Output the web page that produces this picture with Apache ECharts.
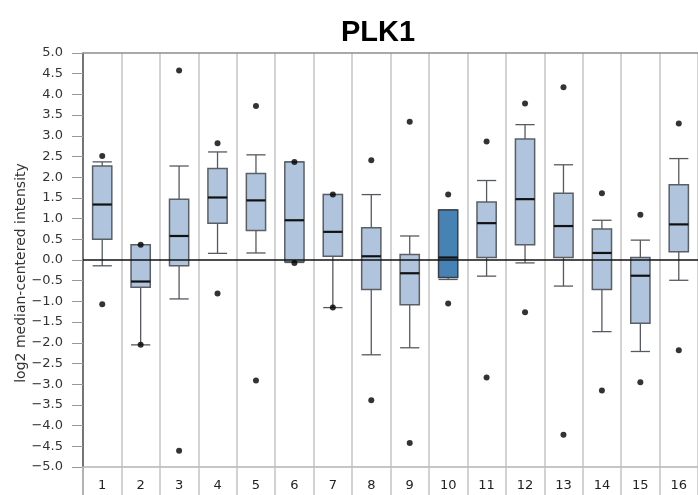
<!DOCTYPE html>
<html>
<head>
<meta charset="utf-8">
<style>
  html, body { margin: 0; padding: 0; background: #fff; }
  #chart { width: 698px; height: 495px; }
</style>
<script src="https://cdn.jsdelivr.net/npm/echarts@6/dist/echarts.min.js"></script>
</head>
<body>
<div id="chart"></div>
<script>
// PLK1 expression per group: five-number summaries and outlying points
const categories = ['1', '2', '3', '4', '5', '6', '7', '8', '9', '10', '11', '12', '13', '14', '15', '16'];
const lowWhisker  = [-0.14, -2.05, -0.94, 0.16, 0.17, -0.06, -1.15, -2.29, -2.12, -0.47, -0.39, -0.07, -0.63, -1.73, -2.21, -0.49];
const lowerQuart  = [ 0.50, -0.66, -0.14, 0.89, 0.71, -0.04,  0.09, -0.71, -1.08, -0.42,  0.06,  0.37,  0.06, -0.71, -1.53,  0.20];
const medians     = [ 1.34, -0.52,  0.58, 1.51, 1.44,  0.96,  0.68,  0.09, -0.32,  0.06,  0.89,  1.47,  0.82,  0.17, -0.38,  0.86];
const upperQuart  = [ 2.27,  0.37,  1.47, 2.21, 2.09,  2.37,  1.58,  0.78,  0.13,  1.21,  1.40,  2.92,  1.61,  0.75,  0.06,  1.82];
const highWhisker = [ 2.37,  0.37,  2.27, 2.61, 2.54,  2.37,  1.58,  1.58,  0.58,  1.21,  1.92,  3.27,  2.30,  0.96,  0.48,  2.45];
const highPoints  = [ 2.51,  0.37,  4.58, 2.82, 3.72,  2.37,  1.58,  2.41,  3.34,  1.58,  2.86,  3.78,  4.17,  1.61,  1.09,  3.30];
const lowPoints   = [-1.07, -2.05, -4.61, -0.81, -2.91, -0.07, -1.15, -3.39, -4.42, -1.05, -2.84, -1.26, -4.22, -3.15, -2.95, -2.18];
const highlightedGroup = 9;
const yTicks = { min: -5, max: 5, step: 0.5 };

const boxData = categories.map((c, i) =>
  [i, lowWhisker[i], lowerQuart[i], medians[i], upperQuart[i], highWhisker[i]]);
const pointData = [];
categories.forEach((c, i) => {
  pointData.push([i, highPoints[i]]);
  pointData.push([i, lowPoints[i]]);
});

const FONT = 'DejaVu Sans';

function renderBox(params, api) {
  const idx = api.value(0);
  const pLow = api.coord([idx, api.value(1)]);
  const pQ1 = api.coord([idx, api.value(2)]);
  const pMed = api.coord([idx, api.value(3)]);
  const pQ3 = api.coord([idx, api.value(4)]);
  const pHigh = api.coord([idx, api.value(5)]);
  const half = api.size([1, 0])[0] * 0.25;
  const cx = pMed[0];
  const fill = idx === highlightedGroup ? '#4682b4' : '#b0c4de';
  const edge = idx === highlightedGroup ? '#3a3f47' : '#5a5f66';
  const wStyle = { stroke: '#555a60', lineWidth: 1.3 };
  return {
    type: 'group',
    children: [
      { type: 'line', shape: { x1: cx, y1: pQ3[1], x2: cx, y2: pHigh[1] }, style: wStyle },
      { type: 'line', shape: { x1: cx - half, y1: pHigh[1], x2: cx + half, y2: pHigh[1] }, style: wStyle },
      { type: 'line', shape: { x1: cx, y1: pQ1[1], x2: cx, y2: pLow[1] }, style: wStyle },
      { type: 'line', shape: { x1: cx - half, y1: pLow[1], x2: cx + half, y2: pLow[1] }, style: wStyle },
      { type: 'rect', shape: { x: cx - half, y: pQ3[1], width: half * 2, height: pQ1[1] - pQ3[1] },
        style: { fill: fill, stroke: edge, lineWidth: 1.5 } },
      { type: 'line', shape: { x1: cx - half, y1: pMed[1], x2: cx + half, y2: pMed[1] },
        style: { stroke: '#111', lineWidth: 2.2 } }
    ]
  };
}

const chart = echarts.init(document.getElementById('chart'), null, { renderer: 'canvas' });
chart.setOption({
  animation: false,
  backgroundColor: '#fff',
  title: {
    text: 'PLK1',
    left: 336,
    top: 13,
    textStyle: { fontFamily: 'Liberation Sans', fontWeight: 'bold', fontSize: 29, color: '#000' }
  },
  grid: { left: 83, top: 53, width: 617, height: 414 },
  xAxis: {
    type: 'category',
    data: categories,
    boundaryGap: true,
    axisLine: { show: true, onZero: false, lineStyle: { color: '#b4b4b4', width: 1.5 } },
    axisTick: { show: true, interval: 0, alignWithLabel: false, length: 30,
                lineStyle: { color: '#c4c4c4', width: 1.5 } },
    axisLabel: { interval: 0, margin: 12, fontFamily: FONT, fontSize: 13, color: '#222' },
    splitLine: { show: true, interval: 0, lineStyle: { color: '#c4c4c4', width: 1.5 } }
  },
  yAxis: {
    type: 'value',
    min: yTicks.min,
    max: yTicks.max,
    interval: yTicks.step,
    axisLine: { show: true, lineStyle: { color: '#555', width: 1.5 } },
    axisTick: { show: true, length: 11, lineStyle: { color: '#999', width: 1 } },
    axisLabel: {
      margin: 20,
      fontFamily: FONT,
      fontSize: 13,
      color: '#333',
      formatter: v => (v < 0 ? '\u2212' : '') + Math.abs(v).toFixed(1)
    },
    splitLine: { show: false }
  },
  graphic: [
    {
      type: 'text',
      x: 21,
      y: 273,
      rotation: Math.PI / 2,
      style: {
        text: 'log2 median-centered intensity',
        fontFamily: FONT,
        fontSize: 14,
        fill: '#333',
        textAlign: 'center',
        textVerticalAlign: 'middle'
      }
    },
    {
      type: 'line',
      shape: { x1: 83, y1: 467, x2: 83, y2: 495 },
      style: { stroke: '#555', lineWidth: 1.5 }
    }
  ],
  series: [
    {
      type: 'custom',
      name: 'boxes',
      renderItem: renderBox,
      data: boxData,
      encode: { x: 0, y: [1, 2, 3, 4, 5] },
      z: 3,
      markLine: {
        silent: true,
        symbol: 'none',
        label: { show: false },
        data: [
          { yAxis: 0, lineStyle: { color: '#111', width: 1.5, type: 'solid' } },
          { yAxis: yTicks.max, lineStyle: { color: '#8c8c8c', width: 1.5, type: 'solid' } }
        ],
        z: 5
      }
    },
    {
      type: 'scatter',
      name: 'points',
      data: pointData,
      symbol: 'circle',
      symbolSize: 6,
      itemStyle: { color: '#000' },
      z: 6
    }
  ]
});
</script>
</body>
</html>
